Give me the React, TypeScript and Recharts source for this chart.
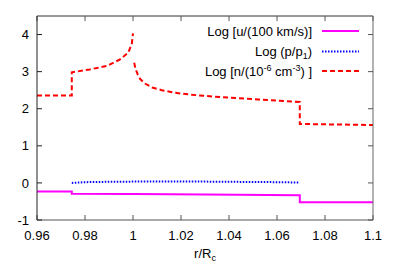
import React from 'react';
import { LineChart, Line, XAxis, YAxis } from 'recharts';

const xTicks = [0.96, 0.98, 1.0, 1.02, 1.04, 1.06, 1.08, 1.1];
const xTickLabels = ['0.96', '0.98', '1', '1.02', '1.04', '1.06', '1.08', '1.1'];
const yTicks = [-1, 0, 1, 2, 3, 4];
const yTickLabels = ['-1', '0', '1', '2', '3', '4'];

// Log [u/(100 km/s)]
const uR = [0.96, 0.9745, 0.9745, 1.0, 1.03, 1.0695, 1.0695, 1.1];
const uVal = [-0.23, -0.23, -0.29, -0.30, -0.31, -0.33, -0.52, -0.52];

// Log (p/p1)
const pR = [0.9745, 0.98, 0.99, 1.0, 1.01, 1.02, 1.03, 1.04, 1.05, 1.06, 1.0695];
const pVal = [0.0, 0.02, 0.03, 0.035, 0.04, 0.04, 0.035, 0.03, 0.025, 0.02, 0.01];

// Log [n/(1e-6 cm^-3)]
const nR = [0.96, 0.9745, 0.9745, 0.982, 0.989, 0.9946, 0.998, 0.9995, 1.0, 1.0002, 1.0005, 1.001, 1.002, 1.003, 1.005, 1.008, 1.012, 1.0175, 1.024, 1.031, 1.04, 1.052, 1.06, 1.0695, 1.0695, 1.1];
const nVal: (number | null)[] = [2.36, 2.36, 2.98, 3.06, 3.15, 3.33, 3.51, 3.75, 4.03, null, 3.24, 3.08, 2.92, 2.80, 2.68, 2.57, 2.50, 2.43, 2.38, 2.34, 2.30, 2.25, 2.22, 2.18, 1.59, 1.56];

const uData = uR.map((x, i) => ({ x, y: uVal[i] }));
const pData = pR.map((x, i) => ({ x, y: pVal[i] }));
const nData = nR.map((x, i) => ({ x, y: nVal[i] }));

const FONT = '"Liberation Sans", Arial, sans-serif';
const W = 399;
const H = 279;

const xFmt = (v: number) => {
  const i = xTicks.findIndex((t) => Math.abs(t - v) < 1e-9);
  return i >= 0 ? xTickLabels[i] : String(v);
};
const yFmt = (v: number) => {
  const i = yTicks.findIndex((t) => Math.abs(t - v) < 1e-9);
  return i >= 0 ? yTickLabels[i] : String(v);
};

const EmptyTick = () => <g />;

const XLabel = (props: any) => {
  const vb = props.viewBox || {};
  const cx = vb.x + vb.width / 2;
  const y = vb.y + 38;
  return (
    <text x={cx} y={y} textAnchor="middle" fontFamily={FONT} fontSize={13} fill="#000">
      r/R<tspan fontSize={9} dy={3}>c</tspan>
    </text>
  );
};

const Legend = () => (
  <svg width={W} height={H} style={{ position: 'absolute', left: 0, top: 0, pointerEvents: 'none' }}>
    <g fontFamily={FONT} fontSize={13} fill="#000">
      <text x={312} y={36} textAnchor="end">Log [u/(100 km/s)]</text>
      <text x={312} y={56} textAnchor="end">
        Log (p/p<tspan fontSize={9} dy={3}>1</tspan><tspan dy={-3}>)</tspan>
      </text>
      <text x={312} y={76} textAnchor="end">
        Log [n/(10<tspan fontSize={9} dy={-5}>-6</tspan><tspan dy={5}> cm</tspan>
        <tspan fontSize={9} dy={-5}>-3</tspan><tspan dy={5}>) ]</tspan>
      </text>
    </g>
    <line x1={322} x2={359} y1={31} y2={31} stroke="#ff00ff" strokeWidth={2} />
    <line x1={322} x2={359} y1={51.5} y2={51.5} stroke="#0000ff" strokeWidth={2} strokeDasharray="1.5 1.5" />
    <line x1={322} x2={359} y1={71} y2={71} stroke="#ff0000" strokeWidth={2} strokeDasharray="5 3" />
  </svg>
);

export default function App() {
  return (
    <div style={{ position: 'absolute', left: 0, top: 0, width: W, height: H, background: '#fff' }}>
      <LineChart width={W} height={H} margin={{ top: 15, right: 25, bottom: 0, left: 0 }}>
        <XAxis
          xAxisId="b"
          dataKey="x"
          type="number"
          domain={[0.96, 1.1]}
          ticks={xTicks}
          tickFormatter={xFmt}
          allowDataOverflow
          height={59}
          tickSize={-5}
          tickMargin={16}
          stroke="#555"
          tick={{ fill: '#000', fontSize: 13, fontFamily: FONT }}
          interval={0}
          label={<XLabel />}
        />
        <XAxis
          xAxisId="t"
          orientation="top"
          dataKey="x"
          type="number"
          domain={[0.96, 1.1]}
          ticks={xTicks}
          allowDataOverflow
          height={1}
          tickSize={-5}
          tick={<EmptyTick />}
          tickLine={{ stroke: '#555' }}
          axisLine={{ stroke: '#333' }}
          stroke="#333"
          interval={0}
        />
        <YAxis
          yAxisId="l"
          type="number"
          domain={[-1, 4.5]}
          ticks={yTicks}
          tickFormatter={yFmt}
          allowDataOverflow
          width={37}
          tickSize={-5}
          tickMargin={13}
          stroke="#222"
          tick={{ fill: '#000', fontSize: 13, fontFamily: FONT }}
          interval={0}
        />
        <YAxis
          yAxisId="r"
          orientation="right"
          type="number"
          domain={[-1, 4.5]}
          ticks={yTicks}
          allowDataOverflow
          width={1}
          tickSize={-5}
          tick={<EmptyTick />}
          tickLine={{ stroke: '#555' }}
          axisLine={{ stroke: '#666' }}
          stroke="#666"
          interval={0}
        />
        <Line xAxisId="t" yAxisId="r" data={uData} dataKey="y" type="linear" stroke="none" strokeWidth={0} dot={false} activeDot={false} legendType="none" isAnimationActive={false} />
        <Line xAxisId="b" yAxisId="l" data={uData} dataKey="y" type="linear" stroke="#ff00ff" strokeWidth={2} dot={false} isAnimationActive={false} />
        <Line xAxisId="b" yAxisId="l" data={pData} dataKey="y" type="linear" stroke="#0000ff" strokeWidth={2} strokeDasharray="1.5 1.5" dot={false} isAnimationActive={false} />
        <Line xAxisId="b" yAxisId="l" data={nData} dataKey="y" type="linear" stroke="#ff0000" strokeWidth={2} strokeDasharray="5 3" dot={false} isAnimationActive={false} />
      </LineChart>
      <Legend />
    </div>
  );
}
